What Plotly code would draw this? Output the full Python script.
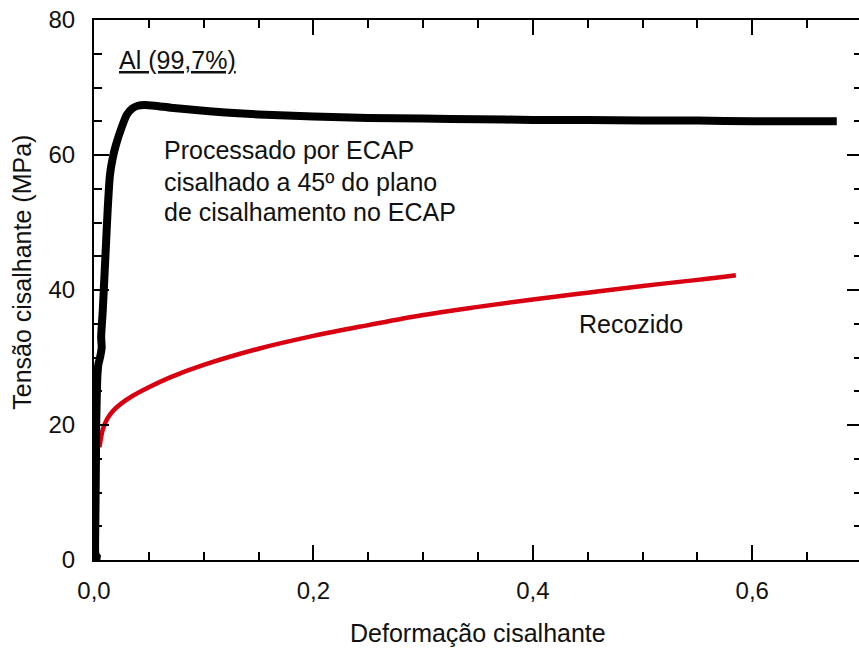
import plotly.graph_objects as go

# Shear stress-strain data, Al (99.7%)
ecap_strain = [0.006, 0.003, 0.0012, 0.0012, 0.0015, 0.0018, 0.002, 0.0025, 0.003, 0.004,
               0.0055, 0.007, 0.0065, 0.008, 0.0095, 0.011, 0.0125, 0.0145, 0.017, 0.020,
               0.025, 0.030, 0.035, 0.040, 0.046, 0.055, 0.07, 0.09, 0.12, 0.15, 0.2, 0.25,
               0.3, 0.35, 0.4, 0.45, 0.5, 0.55, 0.6, 0.65, 0.677]
ecap_stress = [0.2, 0.3, 1.0, 5.0, 10.0, 15.0, 20.0, 24.0, 27.0, 29.0,
               30.0, 31.5, 33.0, 37.0, 42.0, 47.0, 52.0, 57.0, 59.5, 61.5,
               64.0, 66.0, 66.9, 67.3, 67.4, 67.3, 67.0, 66.7, 66.3, 66.0, 65.7, 65.5,
               65.4, 65.3, 65.2, 65.2, 65.1, 65.1, 65.0, 65.0, 65.0]

annealed_strain = [0.005, 0.008, 0.012, 0.018, 0.025, 0.035, 0.05, 0.07, 0.1, 0.15,
                   0.2, 0.25, 0.3, 0.35, 0.4, 0.45, 0.5, 0.55, 0.585]
annealed_stress = [16.7, 19.3, 20.9, 22.2, 23.2, 24.3, 25.6, 27.1, 28.9, 31.3,
                   33.2, 34.8, 36.3, 37.5, 38.6, 39.6, 40.6, 41.5, 42.2]

x_ticks = [0.0, 0.2, 0.4, 0.6]
x_tick_labels = ["0,0", "0,2", "0,4", "0,6"]
y_ticks = [0, 20, 40, 60, 80]
y_tick_labels = ["0", "20", "40", "60", "80"]

FONT = "Arial, Liberation Sans, sans-serif"
INK = "#111111"

fig = go.Figure()
fig.add_trace(go.Scatter(
    x=annealed_strain, y=annealed_stress, mode="lines",
    line=dict(color="#d90012", width=4.5, shape="spline", smoothing=1.0),
    showlegend=False, hoverinfo="skip"))
fig.add_trace(go.Scatter(
    x=ecap_strain, y=ecap_stress, mode="lines",
    line=dict(color="black", width=8, shape="spline", smoothing=0.5),
    showlegend=False, hoverinfo="skip"))

axis_common = dict(
    showline=True, linecolor="black", linewidth=2,
    ticks="inside", ticklen=15, tickwidth=2, tickcolor="black",
    mirror="ticks", showgrid=False, zeroline=False,
    tickfont=dict(family=FONT, size=24, color=INK),
)

fig.update_xaxes(range=[0, 0.7], tickvals=x_ticks, ticktext=x_tick_labels,
                 ticklabelstandoff=8,
                 minor=dict(dtick=0.05, tick0=0, ticks="inside", ticklen=8,
                            tickwidth=2, tickcolor="black"),
                 **axis_common)
fig.update_yaxes(range=[0, 80], tickvals=y_ticks, ticktext=y_tick_labels,
                 ticklabelstandoff=12,
                 minor=dict(dtick=5, tick0=0, ticks="inside", ticklen=8,
                            tickwidth=2, tickcolor="black"),
                 **axis_common)

def label(text, x, y, size=25, xanchor="left"):
    fig.add_annotation(text=text, x=x, y=y, xref="x", yref="y",
                       xanchor=xanchor, yanchor="middle", showarrow=False,
                       font=dict(family=FONT, size=size, color=INK))

label("<u>Al (99,7%)</u>", 0.021, 74.1)
label("Processado por ECAP", 0.062, 60.67)
label("cisalhado a 45º do plano", 0.062, 56.07)
label("de cisalhamento no ECAP", 0.062, 51.5)
label("Recozido", 0.4405, 34.96)

# Axis titles
fig.add_annotation(text="Deformação cisalhante", x=0.5, y=-0.135,
                   xref="paper", yref="paper", xanchor="center", yanchor="middle",
                   showarrow=False, font=dict(family=FONT, size=25, color=INK))
fig.add_annotation(text="Tensão cisalhante (MPa)", x=-0.093, y=0.533,
                   xref="paper", yref="paper", xanchor="center", yanchor="middle",
                   textangle=-90, showarrow=False,
                   font=dict(family=FONT, size=25, color=INK))

fig.update_layout(
    width=864, height=648,
    margin=dict(l=94, r=0, t=20, b=88),
    paper_bgcolor="white", plot_bgcolor="white",
    separators=",.",
)

fig.write_html("out.html",
               post_script="document.documentElement.style.overflow='hidden';"
                           "document.body.style.overflow='hidden';")
